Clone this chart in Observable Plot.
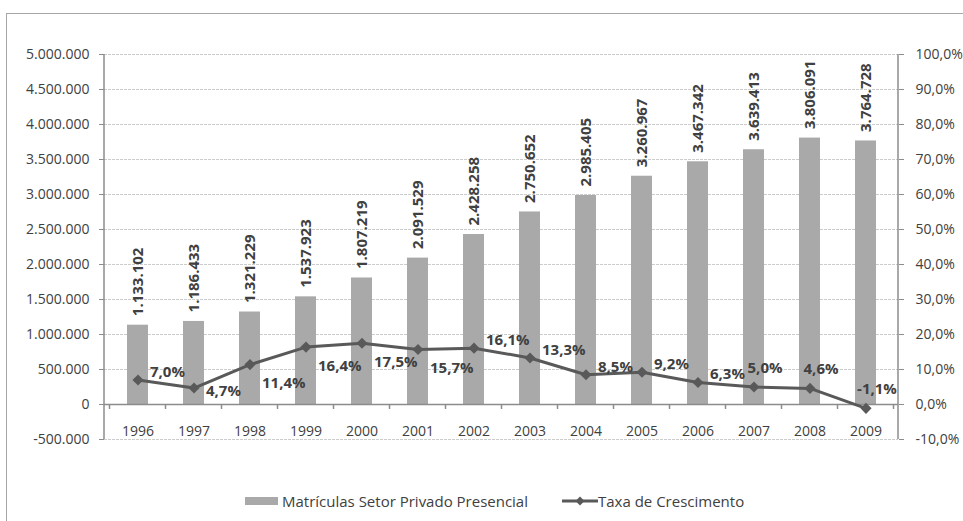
<!DOCTYPE html>
<html>
<head>
<meta charset="utf-8">
<script src="https://cdn.jsdelivr.net/npm/d3@7"></script>
<script src="https://cdn.jsdelivr.net/npm/@observablehq/plot@0.6"></script>
<style>
  html, body { margin: 0; padding: 0; background: #fff; }
  #wrap { position: relative; width: 963px; height: 521px; overflow: hidden; font-family: 'Open Sans', sans-serif; }
  #frame { position: absolute; left: 6px; top: 13px; width: 1200px; height: 800px; border-top: 1.5px solid #a6a6a6; border-left: 1.5px solid #a6a6a6; }
  #chart { position: absolute; left: 0; top: 0; }
  #legend { position: absolute; top: 490px; left: 0; width: 963px; height: 22px; font-size: 15px; line-height: 22px; color: #404040; }
  .sw { position: absolute; top: 7px; left: 245px; width: 33px; height: 8px; background: #a9a9a9; }
  .t1 { position: absolute; left: 282px; top: 0px; }
  .t2 { position: absolute; left: 598px; top: 0px; }
  .ln { position: absolute; left: 562px; top: 4px; }
</style>
</head>
<body>
<div id="wrap">
  <div id="frame"></div>
  <div id="chart"></div>
  <div id="legend">
    <div class="sw"></div><span class="t1">Matrículas Setor Privado Presencial</span>
    <svg class="ln" width="36" height="14"><line x1="0" y1="7" x2="36" y2="7" stroke="#595959" stroke-width="3"/><path d="M18 2.5 L22.5 7 L18 11.5 L13.5 7 Z" fill="#595959"/></svg>
    <span class="t2">Taxa de Crescimento</span>
  </div>
</div>
<script>
// ---- data ----
const years = ["1996","1997","1998","1999","2000","2001","2002","2003","2004","2005","2006","2007","2008","2009"];
const enrollments = [1133102, 1186433, 1321229, 1537923, 1807219, 2091529, 2428258, 2750652, 2985405, 3260967, 3467342, 3639413, 3806091, 3764728];
const growthPct = [7.0, 4.7, 11.4, 16.4, 17.5, 15.7, 16.1, 13.3, 8.5, 9.2, 6.3, 5.0, 4.6, -1.1];
const leftTicks = [-500000, 0, 500000, 1000000, 1500000, 2000000, 2500000, 3000000, 3500000, 4000000, 4500000, 5000000];
const leftTickLabels = ["-500.000","0","500.000","1.000.000","1.500.000","2.000.000","2.500.000","3.000.000","3.500.000","4.000.000","4.500.000","5.000.000"];
const rightTickLabels = ["-10,0%","0,0%","10,0%","20,0%","30,0%","40,0%","50,0%","60,0%","70,0%","80,0%","90,0%","100,0%"];
// where each growth label sits relative to its point
const growthLabelPlacement = ["upRight","right","downRight","downRight","downRight","downRight","upRight","upRight","upRight","upRight","upRight","above","above","above"];

// 100% on the right axis corresponds to 5.000.000 on the left axis
const pctToLeft = 5000000 / 100;

const fmtInt = d3.formatLocale({decimal: ",", thousands: ".", grouping: [3], currency: ["", ""]}).format(",d");
const fmtPct = v => v.toFixed(1).replace(".", ",") + "%";

const rows = years.map((year, i) => ({
  year,
  value: enrollments[i],
  growth: growthPct[i],
  growthY: growthPct[i] * pctToLeft,
  place: growthLabelPlacement[i]
}));

const textColor = "#404040";
const axisColor = "#8c8c8c";

const placeStyles = {
  upRight:   {dx: 12, dy: -8, textAnchor: "start"},
  right:     {dx: 12, dy: 3, textAnchor: "start"},
  downRight: {dx: 12, dy: 19, textAnchor: "start"},
  above:     {dx: 11, dy: -19, textAnchor: "middle"}
};

const growthLabels = Object.entries(placeStyles).map(([key, s]) =>
  Plot.text(rows.filter(r => r.place === key), {
    x: "year", y: "growthY", text: d => fmtPct(d.growth),
    dx: s.dx, dy: s.dy, textAnchor: s.textAnchor,
    fontWeight: "bold", fontSize: 15, fill: textColor
  })
);

// axis lines on the plot edges and category boundary ticks
function frameLines(index, scales, values, dimensions) {
  const {width, height, marginLeft, marginRight, marginTop, marginBottom} = dimensions;
  const x = scales.x, y = scales.y;
  const g = d3.create("svg:g").attr("stroke", axisColor).attr("stroke-width", 1.5);
  const x0 = marginLeft, x1 = width - marginRight;
  const yTop = marginTop, yBot = height - marginBottom;
  g.append("line").attr("x1", x0).attr("x2", x0).attr("y1", yTop).attr("y2", yBot);
  g.append("line").attr("x1", x1).attr("x2", x1).attr("y1", yTop).attr("y2", yBot);
  const step = x(years[1]) - x(years[0]);
  const bw = x.bandwidth ? x.bandwidth() : 0;
  const y0 = y(0);
  const bounds = years.map(yr => x(yr) + bw / 2 - step / 2).concat([x(years[years.length - 1]) + bw / 2 + step / 2]);
  bounds.forEach(b => g.append("line").attr("x1", b).attr("x2", b).attr("y1", y0).attr("y2", y0 + 5));
  return g.node();
}

const chart = Plot.plot({
  width: 963,
  height: 470,
  marginLeft: 104,
  marginRight: 65,
  marginTop: 54,
  marginBottom: 31,
  style: {fontFamily: "'Open Sans', sans-serif", fontSize: "14px", color: textColor, background: "transparent", overflow: "visible"},
  x: {type: "band", domain: years, paddingInner: 0.63, paddingOuter: 0.315, axis: null},
  y: {domain: [-500000, 5000000], axis: null},
  marks: [
    Plot.ruleY(leftTicks, {stroke: "#cccccc", strokeWidth: 1, strokeDasharray: "3,1"}),
    Plot.barY(rows, {x: "year", y: "value", fill: "#a9a9a9"}),
    Plot.ruleY([0], {stroke: axisColor, strokeWidth: 1.5}),
    frameLines,
    Plot.axisY({anchor: "left", ticks: leftTicks, tickSize: 5, tickPadding: 10, stroke: axisColor, fill: textColor, label: null,
      tickFormat: d => leftTickLabels[leftTicks.indexOf(d)]}),
    Plot.axisY({anchor: "right", ticks: leftTicks, tickSize: 5, tickPadding: 12, stroke: axisColor, fill: textColor, label: null,
      tickFormat: d => rightTickLabels[leftTicks.indexOf(d)]}),
    Plot.axisX({anchor: "bottom", tickSize: 0, tickPadding: 0, dy: -13, fill: textColor, label: null}),
    Plot.text(rows, {x: "year", y: "value", text: d => fmtInt(d.value), rotate: -90, textAnchor: "start",
      dy: -9, fontWeight: "bold", fontSize: 15, fill: textColor}),
    Plot.line(rows, {x: "year", y: "growthY", stroke: "#595959", strokeWidth: 3}),
    Plot.dot(rows, {x: "year", y: "growthY", symbol: "diamond2", r: 5, fill: "#595959", stroke: "none"}),
    ...growthLabels
  ]
});
document.getElementById("chart").appendChild(chart);
</script>
</body>
</html>
